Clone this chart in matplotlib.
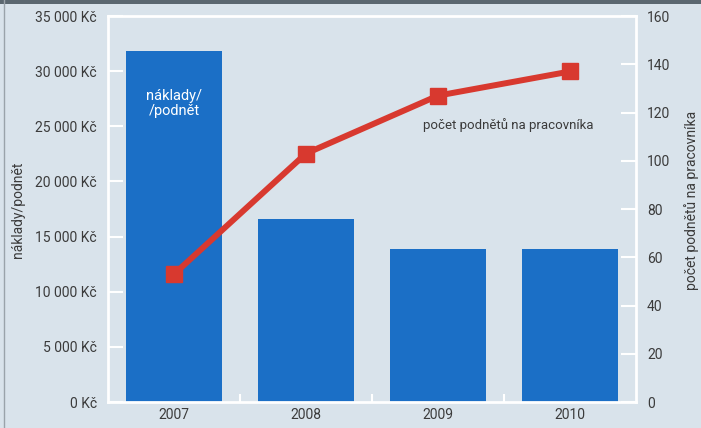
import numpy as np
import matplotlib
matplotlib.use("Agg")
import matplotlib.pyplot as plt
from matplotlib.ticker import FuncFormatter

years = ["2007", "2008", "2009", "2010"]
costs = [31800, 16600, 13900, 13850]          # náklady/podnět (Kč)
per_worker = [53, 103, 127, 137]              # počet podnětů na pracovníka

plt.rcParams['font.family'] = ['Roboto', 'DejaVu Sans']
plt.rcParams['font.stretch'] = 'condensed'

bg = "#d9e3eb"
blue = "#1b6fc6"
red = "#d8392f"
txt = "#3b3b3b"

fig = plt.figure(figsize=(7.01, 4.28), dpi=100, facecolor=bg)
ax = fig.add_axes([108/701, 26/428, 528/701, 386/428])
ax.set_facecolor(bg)

x = np.arange(len(years))
ax.bar(x, costs, width=0.72, color=blue, zorder=2)
ax.set_xlim(-0.5, 3.5)
ax.set_ylim(0, 35000)
ax.set_yticks(np.arange(0, 35001, 5000))
ax.yaxis.set_major_formatter(FuncFormatter(
    lambda v, p: ("{:,.0f}".format(v).replace(",", " ") + " Kč")))
ax.set_xticks(x)
ax.set_xticklabels(years)
ax.set_xticks([0.5, 1.5, 2.5], minor=True)
ax.tick_params(axis='x', which='major', length=0, pad=4, labelsize=10, labelcolor=txt)
ax.tick_params(axis='x', which='minor', direction='in', length=6, width=1.5, color='white')
ax.tick_params(axis='y', direction='in', length=11, width=1.5, color='white',
               pad=8, labelsize=10, labelcolor=txt)
for s in ax.spines.values():
    s.set_color('white')
    s.set_linewidth(2)

ax2 = ax.twinx()
ax2.plot(x, per_worker, color=red, lw=4.3, marker='s', ms=11.5, zorder=3)
ax2.set_ylim(0, 160)
ax2.set_yticks(np.arange(0, 161, 20))
ax2.tick_params(axis='y', direction='in', length=11, width=1.5, color='white',
                pad=8, labelsize=10, labelcolor=txt)
for s in ax2.spines.values():
    s.set_visible(False)

fig.text(18/701, 1 - 210/428, "náklady/podnět", fontsize=10, color=txt,
         rotation=90, ha='center', va='center')
fig.text(692/701, 1 - 200/428, "počet podnětů na pracovníka", fontsize=10,
         color=txt, rotation=90, ha='center', va='center')

ax.text(0, 27100, "náklady/\n/podnět", color='white', fontsize=10.5,
        ha='center', va='center', linespacing=1.1, zorder=4)
ax2.text(1.89, 115, "počet podnětů na pracovníka", color=txt, fontsize=9.5,
         ha='left', va='center')

# scan frame
fig.add_artist(plt.Rectangle((0, 1 - 4/428), 1, 4/428, transform=fig.transFigure,
                             color="#5b6770", lw=0))
fig.add_artist(plt.Line2D([4/701, 4/701], [0, 1], transform=fig.transFigure,
                          color="#9aa3aa", lw=1))

fig.savefig("out.png", dpi=100, facecolor=bg)
